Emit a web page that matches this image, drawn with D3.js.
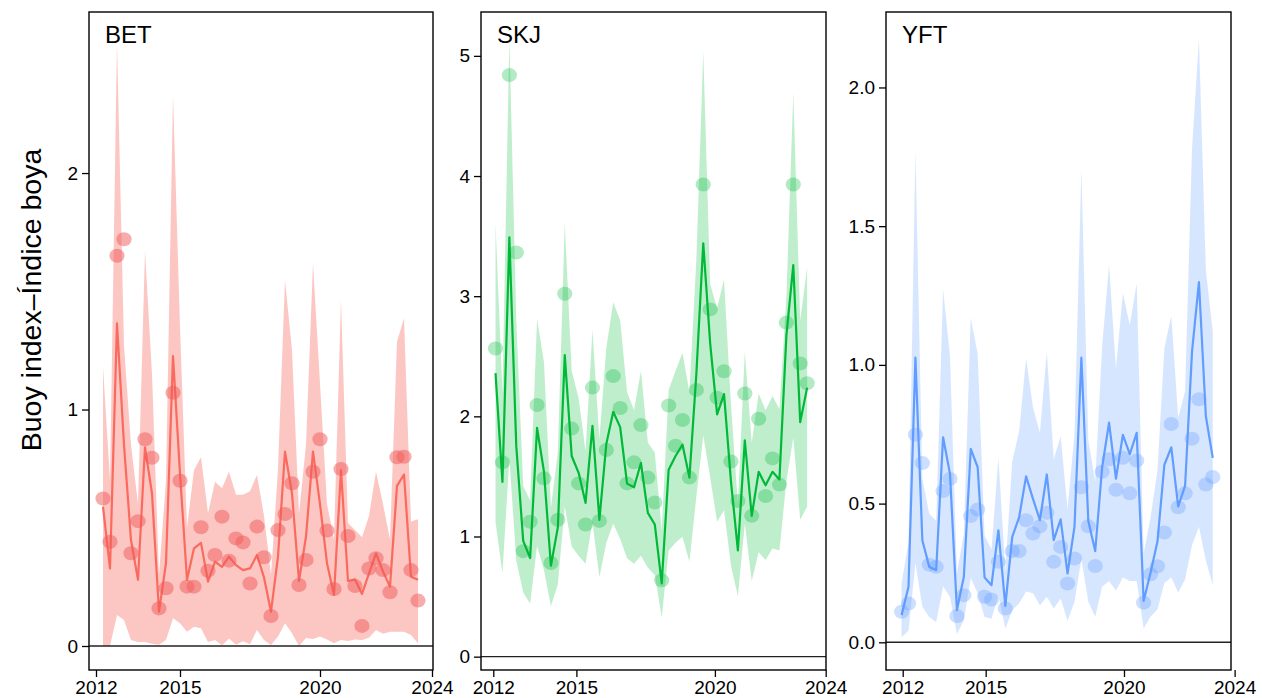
<!DOCTYPE html>
<html>
<head>
<meta charset="utf-8">
<script src="https://cdn.jsdelivr.net/npm/d3@7"></script>
<style>
  html, body { margin: 0; padding: 0; background: #fff; }
  svg { display: block; font-family: "Liberation Sans", Arial, sans-serif; }
</style>
</head>
<body>
<svg id="chart" width="1262" height="698"></svg>
<script>
// ---------------- DATA ----------------
// Quarterly time steps (decimal years)
const quarterTimes = [
  2012.25, 2012.5, 2012.75, 2013.0, 2013.25, 2013.5, 2013.75, 2014.0,
  2014.25, 2014.5, 2014.75, 2015.0, 2015.25, 2015.5, 2015.75, 2016.0,
  2016.25, 2016.5, 2016.75, 2017.0, 2017.25, 2017.5, 2017.75, 2018.0,
  2018.25, 2018.5, 2018.75, 2019.0, 2019.25, 2019.5, 2019.75, 2020.0,
  2020.25, 2020.5, 2020.75, 2021.0, 2021.25, 2021.5, 2021.75, 2022.0,
  2022.25, 2022.5, 2022.75, 2023.0, 2023.25, 2023.5
];

const speciesNames = ["BET", "SKJ", "YFT"];
const yAxisLabel = "Buoy index\u2013\u00CDndice boya";
const xTickValues = [2012, 2015, 2020, 2024];
const betTicks = [0, 1, 2];
const skjTicks = [0, 1, 2, 3, 4, 5];
const yftTicks = [0, 0.5, 1.0, 1.5, 2.0];

// BET
const betObserved = [0.624, 0.441, 1.65, 1.72, 0.392, 0.528, 0.874, 0.796, 0.159, 0.244, 1.071, 0.699, 0.251, 0.251, 0.502, 0.318, 0.385, 0.547, 0.361, 0.455, 0.438, 0.264, 0.505, 0.375, 0.127, 0.49, 0.558, 0.688, 0.258, 0.364, 0.737, 0.874, 0.488, 0.241, 0.748, 0.465, 0.254, 0.085, 0.328, 0.371, 0.321, 0.227, 0.798, 0.80, 0.321, 0.192];
const betPredicted = [0.589, 0.328, 1.364, 0.85, 0.448, 0.28, 0.84, 0.645, 0.145, 0.35, 1.226, 0.73, 0.28, 0.413, 0.436, 0.272, 0.357, 0.335, 0.378, 0.342, 0.321, 0.328, 0.385, 0.29, 0.145, 0.378, 0.822, 0.645, 0.275, 0.462, 0.822, 0.6, 0.35, 0.216, 0.744, 0.275, 0.282, 0.22, 0.307, 0.392, 0.315, 0.251, 0.677, 0.725, 0.293, 0.28];
const betLower = [0, 0, 0.131, 0.11, 0.025, 0.017, 0.017, 0.01, 0.005, 0.025, 0.117, 0.096, 0.06, 0.081, 0.075, 0.017, 0.025, 0.003, 0.032, 0.005, 0.02, 0.007, 0.068, 0.025, 0.004, 0.04, 0.096, 0.054, 0.0, 0.034, 0.03, 0.04, 0.028, 0.012, 0.025, 0.021, 0.028, 0.025, 0.035, 0.068, 0.052, 0.06, 0.06, 0.06, 0.047, 0.012];
const betUpper = [1.18, 0.70, 2.55, 1.27, 0.85, 0.60, 1.67, 1.15, 0.30, 0.70, 2.33, 1.35, 0.50, 0.744, 0.798, 0.561, 0.695, 0.667, 0.737, 0.64, 0.64, 0.654, 0.723, 0.55, 0.30, 0.75, 1.548, 1.25, 0.56, 0.85, 1.618, 1.11, 0.60, 0.45, 1.463, 0.52, 0.49, 0.46, 0.55, 0.737, 0.60, 0.45, 1.287, 1.386, 0.526, 0.536];

// SKJ
const skjObserved = [2.564, 1.617, 4.84, 3.364, 0.878, 1.123, 2.095, 1.484, 0.78, 1.139, 3.02, 1.898, 1.442, 1.10, 2.239, 1.13, 1.72, 2.335, 2.07, 1.442, 1.617, 1.927, 1.49, 1.283, 0.635, 2.09, 1.755, 1.97, 1.49, 2.22, 3.93, 2.89, 2.155, 2.375, 1.624, 1.295, 2.19, 1.172, 1.98, 1.337, 1.65, 1.432, 2.78, 3.93, 2.44, 2.275];
const skjPredicted = [2.36, 1.454, 3.49, 1.75, 0.963, 0.821, 1.904, 1.538, 0.757, 1.076, 2.51, 1.67, 1.53, 1.28, 1.92, 1.139, 1.77, 2.038, 1.91, 1.44, 1.41, 1.612, 1.197, 1.1, 0.61, 1.555, 1.67, 1.765, 1.49, 2.35, 3.44, 2.605, 2.016, 2.185, 1.458, 0.884, 1.80, 1.171, 1.538, 1.426, 1.538, 1.474, 2.669, 3.258, 1.952, 2.239];
const skjLower = [1.12, 0.694, 1.65, 0.8, 0.534, 0.44, 0.92, 0.72, 0.42, 0.6, 1.25, 0.917, 0.84, 0.773, 1.12, 0.66, 0.948, 1.107, 0.98, 0.82, 0.773, 0.84, 0.74, 0.68, 0.326, 0.884, 0.948, 0.997, 0.79, 1.33, 1.84, 1.49, 1.123, 1.219, 0.757, 0.502, 1.107, 0.63, 0.868, 0.805, 0.9, 0.884, 1.458, 1.824, 1.139, 1.25];
const skjUpper = [3.61, 2.2, 5.15, 2.8, 1.42, 1.3, 2.81, 2.45, 1.24, 1.7, 3.61, 2.38, 2.15, 1.71, 2.72, 1.81, 2.57, 2.95, 2.80, 2.2, 2.05, 2.38, 1.78, 1.7, 1.05, 2.22, 2.38, 2.53, 2.2, 3.3, 5.04, 3.1, 2.9, 3.14, 2.1, 1.27, 2.54, 1.78, 2.19, 2.05, 2.17, 2.06, 2.99, 4.69, 2.8, 3.24];

// YFT
const yftObserved = [0.11, 0.14, 0.748, 0.646, 0.28, 0.272, 0.545, 0.589, 0.095, 0.17, 0.455, 0.479, 0.164, 0.154, 0.29, 0.122, 0.329, 0.329, 0.44, 0.392, 0.418, 0.467, 0.29, 0.344, 0.212, 0.302, 0.559, 0.418, 0.275, 0.615, 0.66, 0.55, 0.665, 0.537, 0.655, 0.143, 0.245, 0.274, 0.396, 0.787, 0.487, 0.537, 0.734, 0.876, 0.569, 0.596];
const yftPredicted = [0.098, 0.2, 1.026, 0.368, 0.272, 0.26, 0.739, 0.607, 0.116, 0.236, 0.697, 0.631, 0.234, 0.206, 0.404, 0.131, 0.38, 0.451, 0.598, 0.517, 0.44, 0.605, 0.368, 0.443, 0.248, 0.416, 1.026, 0.437, 0.329, 0.63, 0.792, 0.59, 0.748, 0.678, 0.755, 0.149, 0.251, 0.363, 0.64, 0.703, 0.49, 0.565, 1.048, 1.298, 0.815, 0.665];
const yftLower = [0.018, 0.043, 0.286, 0.128, 0.091, 0.073, 0.201, 0.164, 0.03, 0.079, 0.232, 0.177, 0.091, 0.085, 0.17, 0.049, 0.116, 0.14, 0.183, 0.177, 0.134, 0.164, 0.122, 0.158, 0.078, 0.146, 0.3, 0.146, 0.092, 0.2, 0.221, 0.187, 0.234, 0.221, 0.221, 0.05, 0.092, 0.119, 0.214, 0.234, 0.18, 0.227, 0.35, 0.417, 0.295, 0.207];
const yftUpper = [0.214, 0.36, 1.773, 0.59, 0.463, 0.438, 1.273, 1.03, 0.25, 0.39, 1.169, 1.04, 0.384, 0.335, 0.664, 0.26, 0.652, 0.761, 1.023, 0.846, 0.755, 1.047, 0.66, 0.743, 0.48, 0.75, 1.706, 0.729, 0.58, 1.068, 1.36, 0.987, 1.258, 1.143, 1.294, 0.32, 0.45, 0.62, 1.061, 1.177, 0.81, 0.905, 1.78, 2.176, 1.34, 1.12];

// ---------------- LAYOUT / STYLE ----------------
const panels = [
  { name: speciesNames[0], obs: betObserved, pred: betPredicted, lo: betLower, hi: betUpper,
    ticks: betTicks, fmt: d3.format("d"),
    left: 89, right: 433, xDomain: [2011.75, 2024.036], yDomain: [-0.1015, 2.681], shift: 0,
    line: "#FB6A5E", band: "#F8766D", bandOp: 0.42, pt: "#F05A5A", ptOp: 0.5 },
  { name: speciesNames[1], obs: skjObserved, pred: skjPredicted, lo: skjLower, hi: skjUpper,
    ticks: skjTicks, fmt: d3.format("d"),
    left: 481, right: 826, xDomain: [2011.556, 2024.011], yDomain: [-0.111, 5.365], shift: -0.17,
    line: "#00B938", band: "#00BA38", bandOp: 0.25, pt: "#00BA38", ptOp: 0.3 },
  { name: speciesNames[2], obs: yftObserved, pred: yftPredicted, lo: yftLower, hi: yftUpper,
    ticks: yftTicks, fmt: d3.format(".1f"),
    left: 886, right: 1231, xDomain: [2011.396, 2023.869], yDomain: [-0.0998, 2.272], shift: -0.29,
    line: "#619CFF", band: "#619CFF", bandOp: 0.25, pt: "#619CFF", ptOp: 0.32 }
];
const plotTop = 12, plotBottom = 670;

const svg = d3.select("#chart");

svg.append("text")
  .attr("transform", "translate(41,300) rotate(-90)")
  .attr("text-anchor", "middle")
  .attr("font-size", 28.5)
  .attr("fill", "#000")
  .text(yAxisLabel);

panels.forEach(p => {
  const x = d3.scaleLinear().domain(p.xDomain).range([p.left, p.right]);
  const y = d3.scaleLinear().domain(p.yDomain).range([plotBottom, plotTop]);
  const rows = quarterTimes.map((t, i) => ({
    t: t + p.shift, obs: p.obs[i], pred: p.pred[i], lo: p.lo[i], hi: p.hi[i]
  }));

  const g = svg.append("g");
  const clipId = "clip-" + p.name;
  g.append("clipPath").attr("id", clipId)
    .append("rect").attr("x", p.left).attr("y", plotTop)
    .attr("width", p.right - p.left).attr("height", plotBottom - plotTop);

  const inner = g.append("g").attr("clip-path", `url(#${clipId})`);

  inner.append("path")
    .datum(rows)
    .attr("d", d3.area().x(d => x(d.t)).y0(d => y(d.lo)).y1(d => y(d.hi)))
    .attr("fill", p.band).attr("fill-opacity", p.bandOp).attr("stroke", "none");

  inner.append("line")
    .attr("x1", p.left).attr("x2", p.right)
    .attr("y1", y(0)).attr("y2", y(0))
    .attr("stroke", "#222").attr("stroke-width", 1.4);

  inner.append("path")
    .datum(rows)
    .attr("d", d3.line().x(d => x(d.t)).y(d => y(d.pred)))
    .attr("fill", "none").attr("stroke", p.line).attr("stroke-width", 2.2)
    .attr("stroke-linejoin", "round");

  inner.selectAll("ellipse.pt").data(rows).join("ellipse")
    .attr("class", "pt")
    .attr("cx", d => x(d.t)).attr("cy", d => y(d.obs))
    .attr("rx", 7.6).attr("ry", 7)
    .attr("fill", p.pt).attr("fill-opacity", p.ptOp);

  // frame
  g.append("rect")
    .attr("x", p.left).attr("y", plotTop)
    .attr("width", p.right - p.left).attr("height", plotBottom - plotTop)
    .attr("fill", "none").attr("stroke", "#000").attr("stroke-width", 1.4);

  // y axis
  const ya = g.append("g").attr("transform", `translate(${p.left},0)`)
    .call(d3.axisLeft(y).tickValues(p.ticks).tickFormat(p.fmt).tickSize(7).tickPadding(4));
  ya.select(".domain").remove();
  ya.selectAll("line").attr("stroke", "#000").attr("stroke-width", 1.3);
  ya.selectAll("text").attr("font-size", 19).attr("fill", "#000")
    .attr("font-family", "Liberation Sans, Arial, sans-serif");

  // x axis
  const xa = g.append("g").attr("transform", `translate(0,${plotBottom})`)
    .call(d3.axisBottom(x).tickValues(xTickValues).tickFormat(d3.format("d")).tickSize(7).tickPadding(4));
  xa.select(".domain").remove();
  xa.selectAll("line").attr("stroke", "#000").attr("stroke-width", 1.3);
  xa.selectAll("text").attr("font-size", 19).attr("fill", "#000")
    .attr("font-family", "Liberation Sans, Arial, sans-serif");

  g.append("text")
    .attr("x", p.left + 16).attr("y", 43)
    .attr("font-size", 24).attr("fill", "#000")
    .text(p.name);
});
</script>
</body>
</html>
